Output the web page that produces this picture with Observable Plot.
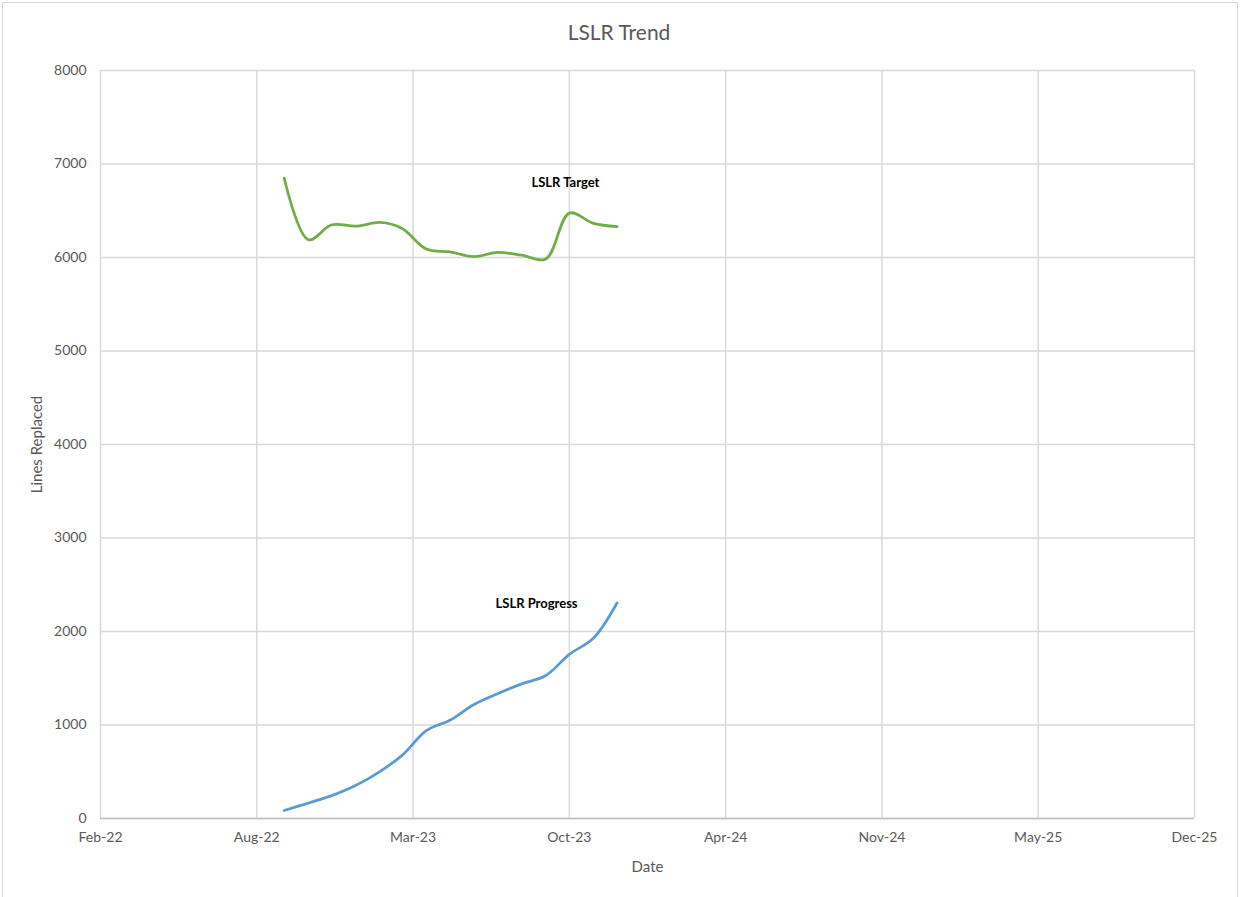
<!DOCTYPE html>
<html><head><meta charset="utf-8">
<script src="https://cdn.jsdelivr.net/npm/d3@7"></script>
<script src="https://cdn.jsdelivr.net/npm/@observablehq/plot@0.6"></script>
<style>
body{margin:0;background:#fff;}
#wrap{position:relative;width:1241px;height:897px;overflow:hidden;font-family:Lato,"Open Sans",sans-serif;}
#border{position:absolute;left:2px;top:2px;width:1234px;height:900px;border:1px solid #d9d9d9;}
#title{position:absolute;left:0;width:1238px;top:19px;text-align:center;font-size:21px;color:#595959;}
#chart{position:absolute;left:0;top:0;}
</style></head>
<body><div id="wrap"><div id="border"></div><div id="title">LSLR Trend</div><div id="chart"></div></div>
<script>
const dates = ["2022-10-01","2022-11-01","2022-12-01","2023-01-01","2023-02-01","2023-03-01","2023-04-01","2023-05-01","2023-06-01","2023-07-01","2023-08-01","2023-09-01","2023-10-01","2023-11-01","2023-12-01"];
const targetValues = [6850,6190,6350,6335,6375,6310,6090,6060,6010,6055,6025,5985,6475,6365,6330];
const progressValues = [85,165,245,355,505,675,940,1050,1220,1335,1440,1530,1755,1930,2305];
const xTicks = ["2022-02-08","2022-08-27","2023-03-15","2023-10-01","2024-04-18","2024-11-04","2025-05-23","2025-12-09"];
const yTicks = [0,1000,2000,3000,4000,5000,6000,7000,8000];
const labelTexts = ["LSLR Target","LSLR Progress"];
const labelDates = ["2023-09-26","2023-08-20"];
const labelValues = [6802,2300];
const xTitle = "Date";
const yTitle = "Lines Replaced";

const parse = d3.utcParse("%Y-%m-%d");
const target = dates.map((d,i)=>({date:parse(d), value:targetValues[i]}));
const progress = dates.map((d,i)=>({date:parse(d), value:progressValues[i]}));
const labels = labelTexts.map((t,i)=>({text:t, date:parse(labelDates[i]), value:labelValues[i]}));
const tickDates = xTicks.map(parse);

const chart = Plot.plot({
  width:1241, height:897,
  marginLeft:100, marginRight:47, marginTop:70, marginBottom:79,
  style:{fontFamily:"Lato, 'Open Sans', sans-serif", fontSize:"14px", color:"#595959", background:"transparent"},
  x:{type:"utc", domain:[tickDates[0], tickDates[tickDates.length-1]]},
  y:{domain:[0,8000]},
  marks:[
    Plot.gridX(tickDates, {stroke:"#d9d9d9", strokeOpacity:1, strokeWidth:1.5}),
    Plot.gridY(yTicks, {stroke:"#d9d9d9", strokeOpacity:1, strokeWidth:1.5}),
    Plot.ruleY([0], {stroke:"#bfbfbf", strokeWidth:1.5}),
    Plot.axisX(tickDates, {tickFormat:d3.utcFormat("%b-%y"), tickSize:0, tickPadding:14, fontSize:14, label:null}),
    Plot.axisY(yTicks, {tickFormat:d3.format("d"), tickSize:0, tickPadding:14, fontSize:14, label:null}),
    Plot.text([xTitle], {frameAnchor:"bottom", dy:53, fontSize:15, fill:"#595959"}),
    Plot.text([yTitle], {frameAnchor:"left", textAnchor:"middle", dx:-63, rotate:-90, fontSize:15, fill:"#595959"}),
    Plot.line(target, {x:"date", y:"value", stroke:"#70ad47", strokeWidth:2.75, curve:"catmull-rom"}),
    Plot.line(progress, {x:"date", y:"value", stroke:"#5b9bd5", strokeWidth:2.75, curve:"catmull-rom"}),
    Plot.text(labels, {x:"date", y:"value", text:"text", fontWeight:"bold", fill:"black", fontSize:13})
  ]
});
document.getElementById("chart").appendChild(chart);
</script>
</body></html>
